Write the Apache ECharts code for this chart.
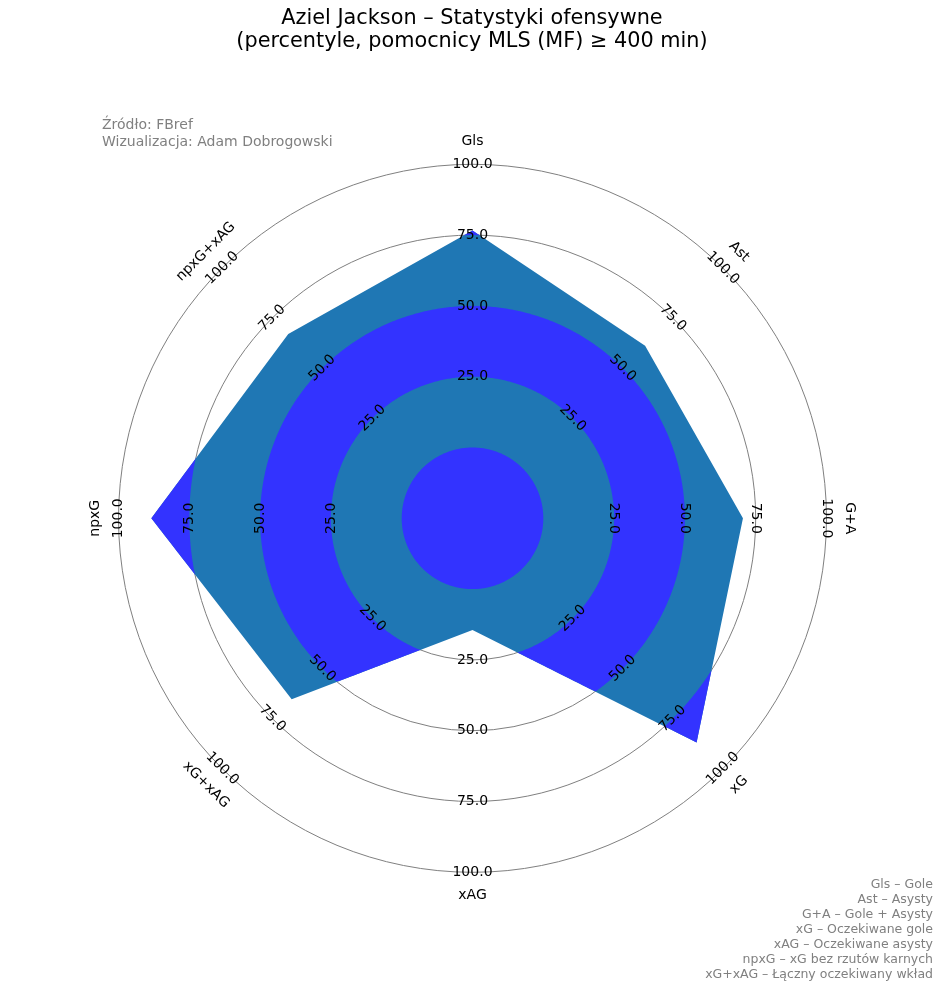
<!DOCTYPE html>
<html><head><meta charset="utf-8">
<script src="https://cdn.jsdelivr.net/npm/echarts@6/dist/echarts.min.js"></script>
<style>html,body{margin:0;padding:0;background:#fff}#c{width:944px;height:991px}</style>
</head><body><div id="c"></div>
<script>
// ---- data ----
const categories = ['Gls', 'Ast', 'G+A', 'xG', 'xAG', 'xG+xAG', 'npxG', 'npxG+xAG'];
const values = [76.6, 61.2, 70.5, 86.9, 14.4, 65.3, 88.4, 67.0];
const tickValues = [25, 50, 75, 100];
const ringBands = [[-25, 0], [25, 50], [75, 100]];
const titleLines = ['Aziel Jackson – Statystyki ofensywne', '(percentyle, pomocnicy MLS (MF) ≥ 400 min)'];
const creditLines = ['Źródło: FBref', 'Wizualizacja: Adam Dobrogowski'];
const glossaryLines = ['Gls – Gole', 'Ast – Asysty', 'G+A – Gole + Asysty', 'xG – Oczekiwane gole',
  'xAG – Oczekiwane asysty', 'npxG – xG bez rzutów karnych', 'xG+xAG – Łączny oczekiwany wkład'];

// ---- setup ----
const FONT = '"DejaVu Sans", sans-serif';
const N = categories.length;
const step = 360 / N;
const angles = categories.map((_, i) => i * step);
const LABEL_VALUE = 108.1;
const C0 = '#1f77b4';
const BLUE = '#3333ff';

function textRot(i) {
  let r = -angles[i];
  while (r <= -180) r += 360;
  while (r > 180) r -= 360;
  if (r < -90) r += 180;
  else if (r > 90) r -= 180;
  return r * Math.PI / 180;
}

function rayHit(c, d, P, Q) {
  const ex = Q[0] - P[0], ey = Q[1] - P[1];
  const den = d[0] * ey - d[1] * ex;
  const num = (P[0] - c[0]) * ey - (P[1] - c[1]) * ex;
  return num / den;
}

const chart = echarts.init(document.getElementById('c'), null, { renderer: 'canvas' });

const graphics = [];
creditLines.forEach(function (t, i) {
  graphics.push({ type: 'text', x: 102, y: 125.7 + i * 17, silent: true,
    style: { text: t, font: '14px ' + FONT, fill: '#808080', align: 'left', verticalAlign: 'middle' } });
});
glossaryLines.forEach(function (t, i) {
  graphics.push({ type: 'text', x: 933, y: 885 + i * 15, silent: true,
    style: { text: t, font: '12.5px ' + FONT, fill: '#808080', align: 'right', verticalAlign: 'middle' } });
});

const option = {
  animation: false,
  backgroundColor: '#ffffff',
  title: {
    text: titleLines.join('\n'),
    left: 'center',
    top: 7,
    padding: 0,
    textStyle: { fontFamily: FONT, fontSize: 20.8, fontWeight: 'normal', color: '#000', lineHeight: 23 }
  },
  graphic: graphics,
  polar: { center: [472.5, 518.3], radius: 354 },
  angleAxis: {
    type: 'value', min: 0, max: 360, startAngle: 90, clockwise: true,
    axisLine: { show: false }, axisTick: { show: false }, axisLabel: { show: false }, splitLine: { show: false }
  },
  radiusAxis: {
    type: 'value', min: -25, max: 100, interval: 25,
    axisLine: { show: false }, axisTick: { show: false }, axisLabel: { show: false },
    splitLine: { show: true, lineStyle: { color: '#808080', width: 1 } }
  },
  series: [
    {
      type: 'custom', coordinateSystem: 'polar', silent: true, z: 2,
      data: [[0, 0]],
      renderItem: function (params, api) {
        const pts = values.map((v, i) => api.coord([v, angles[i]]));
        return { type: 'polygon', shape: { points: pts }, style: { fill: C0, stroke: null } };
      }
    },
    {
      type: 'custom', coordinateSystem: 'polar', silent: true, z: 3,
      data: [[0, 0]],
      renderItem: function (params, api) {
        const c = api.coord([-25, 0]);
        const verts = values.map((v, i) => api.coord([v, angles[i]]));
        const samples = [];
        const SUB = 90;
        for (let i = 0; i < N; i++) {
          const P = verts[i], Q = verts[(i + 1) % N];
          for (let k = 0; k < SUB; k++) {
            const a = angles[i] + step * k / SUB;
            const q = api.coord([100, a]);
            const L = Math.hypot(q[0] - c[0], q[1] - c[1]);
            const d = [(q[0] - c[0]) / L, (q[1] - c[1]) / L];
            samples.push({ d: d, R: rayHit(c, d, P, Q) });
          }
        }
        const children = ringBands.map(function (band) {
          const pa = api.coord([band[0], 0]), pb = api.coord([band[1], 0]);
          const ra = Math.hypot(pa[0] - c[0], pa[1] - c[1]);
          const rb = Math.hypot(pb[0] - c[0], pb[1] - c[1]);
          let s = '';
          samples.forEach(function (sm, j) {
            const r = Math.max(ra, Math.min(rb, sm.R));
            s += (j === 0 ? 'M' : 'L') + (c[0] + sm.d[0] * r).toFixed(2) + ' ' + (c[1] + sm.d[1] * r).toFixed(2);
          });
          s += 'Z';
          if (ra > 0.5) {
            for (let j = samples.length - 1; j >= 0; j--) {
              const sm = samples[j];
              s += (j === samples.length - 1 ? 'M' : 'L') + (c[0] + sm.d[0] * ra).toFixed(2) + ' ' + (c[1] + sm.d[1] * ra).toFixed(2);
            }
            s += 'Z';
          }
          return { type: 'path', shape: { pathData: s }, style: { fill: BLUE, stroke: null } };
        });
        return { type: 'group', children: children };
      }
    },
    {
      type: 'custom', coordinateSystem: 'polar', silent: true, z: 4,
      data: [[0, 0]],
      renderItem: function (params, api) {
        const children = [];
        categories.forEach(function (cat, i) {
          const rot = textRot(i);
          tickValues.forEach(function (tv) {
            const p = api.coord([tv, angles[i]]);
            children.push({
              type: 'text', x: p[0], y: p[1], rotation: rot,
              style: { text: tv.toFixed(1), font: '14px ' + FONT, fill: '#000', align: 'center', verticalAlign: 'middle' }
            });
          });
          const p = api.coord([LABEL_VALUE, angles[i]]);
          children.push({
            type: 'text', x: p[0], y: p[1], rotation: rot,
            style: { text: cat, font: '14px ' + FONT, fill: '#000', align: 'center', verticalAlign: 'middle' }
          });
        });
        return { type: 'group', children: children };
      }
    }
  ]
};
chart.setOption(option);
</script>
</body></html>
